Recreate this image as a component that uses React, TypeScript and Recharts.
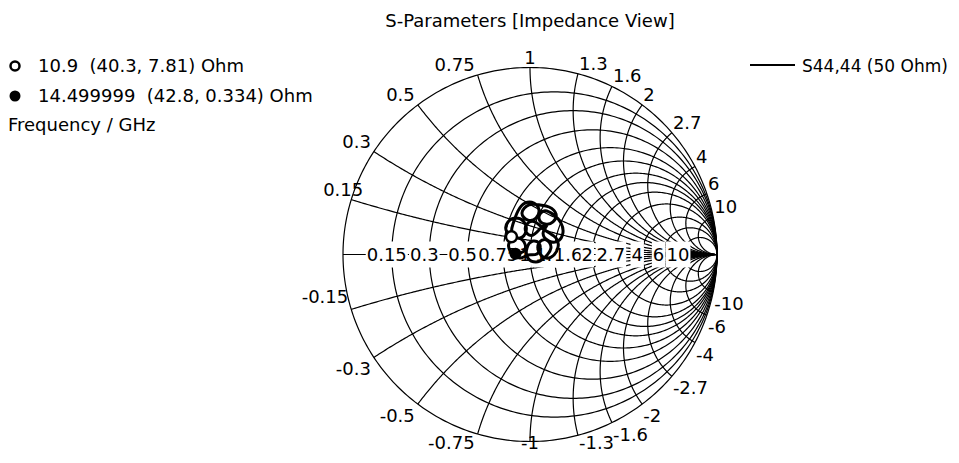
import React from 'react';
import { ComposedChart, Line, XAxis, YAxis } from 'recharts';

const FONT = '"DejaVu Sans", Verdana, Tahoma, sans-serif';
const FONT_SIZE = 18;

// Smith chart grid values, normalised to Z0
const R_VALUES = [0.15, 0.3, 0.5, 0.75, 1, 1.3, 1.6, 2, 2.7, 4, 6, 10];
const X_VALUES = [0.15, 0.3, 0.5, 0.75, 1, 1.3, 1.6, 2, 2.7, 4, 6, 10];
const R_TICK_LABELS = ['0.15', '0.3', '0.5', '0.75', '1', '1.3', '1.6', '2', '2.7', '4', '6', '10'];
const X_TICK_LABELS = ['0.15', '0.3', '0.5', '0.75', '1', '1.3', '1.6', '2', '2.7', '4', '6', '10'];

// S44 reflection coefficient samples (real / imaginary part)
const S44_RE = [
  -0.099, -0.128, -0.118, -0.075, -0.032, -0.021, -0.053, -0.096, -0.091, -0.064,
  -0.027, 0.021, 0.048, 0.032, -0.011, -0.043, -0.005, 0.053, 0.102, 0.139,
  0.123, 0.08, 0.048, 0.075, 0.128, 0.166, 0.176, 0.15, 0.102, 0.07,
  0.091, 0.059, 0.016, -0.021, -0.016, 0.027, 0.08, 0.139, 0.15, 0.128,
  0.086, 0.048, 0.048, 0.086, 0.112, 0.075, 0.032, -0.011, -0.016, 0.016,
  0.053, 0.037, -0.011, -0.053, -0.102, -0.112, -0.075, -0.032, -0.032, -0.078,
];
const S44_IM = [
  0.095, 0.131, 0.174, 0.195, 0.174, 0.126, 0.088, 0.11, 0.163, 0.233,
  0.275, 0.275, 0.238, 0.195, 0.184, 0.222, 0.265, 0.265, 0.254, 0.217,
  0.174, 0.163, 0.195, 0.233, 0.211, 0.168, 0.115, 0.072, 0.072, 0.115,
  0.158, 0.142, 0.104, 0.12, 0.163, 0.174, 0.131, 0.088, 0.04, -0.003,
  -0.019, 0.013, 0.061, 0.078, 0.035, -0.019, -0.04, -0.019, 0.035, 0.072,
  0.051, 0.003, -0.003, -0.019, 0.013, 0.061, 0.088, 0.067, 0.019, 0.004,
];

// Marker readouts: frequency (GHz) and impedance (Ohm)
const MARKER_FREQ_GHZ = ['10.9', '14.499999'];
const MARKER_R_OHM = [40.3, 42.8];
const MARKER_X_OHM = [7.81, 0.334];
const MARKER_FILLED = [false, true];
const Z0 = 50;

const W = 943;
const H = 447;
const MARGIN = { top: 59.5, right: 234, bottom: 13.5, left: 335 };

type P = { gx: number; gy: number };

// reflection coefficient for a normalised impedance r + jx
const gamma = (r: number, x: number): P => {
  const d = (r + 1) * (r + 1) + x * x;
  return { gx: (r * r + x * x - 1) / d, gy: (2 * x) / d };
};

const circlePts = (cx: number, cy: number, rad: number, n: number): P[] => {
  const pts: P[] = [];
  for (let i = 0; i <= n; i++) {
    const a = (i / n) * Math.PI * 2;
    pts.push({ gx: cx + rad * Math.cos(a), gy: cy + rad * Math.sin(a) });
  }
  return pts;
};

const reactanceArc = (x: number, n: number): P[] => {
  const pts: P[] = [];
  for (let i = 0; i < n; i++) {
    const r = Math.tan((i / n) * (Math.PI / 2));
    pts.push(gamma(r, x));
  }
  pts.push({ gx: 1, gy: 0 });
  return pts;
};

const outerCircle = circlePts(0, 0, 1, 360);
const realAxis: P[] = [{ gx: -1, gy: 0 }, { gx: 1, gy: 0 }];
const resistanceCircles = R_VALUES.map((r) => circlePts(r / (1 + r), 0, 1 / (1 + r), 300));
const reactanceArcs = X_VALUES.flatMap((x) => [reactanceArc(x, 260), reactanceArc(-x, 260)]);

const outerLabels = X_VALUES.flatMap((x, i) =>
  [1, -1].map((s) => ({ ...gamma(0, s * x), text: (s < 0 ? '-' : '') + X_TICK_LABELS[i], neg: s < 0 }))
);
const axisLabels = R_VALUES.map((r, i) => ({ ...gamma(r, 0), text: R_TICK_LABELS[i] }));

const s44 = S44_RE.map((re, i) => ({ gx: re, gy: S44_IM[i] }));
const markers = MARKER_R_OHM.map((r, i) => ({
  ...gamma(r / Z0, MARKER_X_OHM[i] / Z0),
  filled: MARKER_FILLED[i],
}));

const textStyle = { fontFamily: FONT, fontSize: FONT_SIZE, fill: '#000' } as const;

const charWidth = (c: string) => (/[0-9]/.test(c) ? 0.636 : c === '.' ? 0.318 : 0.361);

const OuterLabel = (props: any) => {
  const { cx, cy, payload, index } = props;
  const { gx, neg, text } = payload;
  let anchor: 'start' | 'middle' | 'end' = 'middle';
  let dx = 0;
  if (gx < -0.05) {
    anchor = 'end';
    dx = -3;
  } else if (gx > 0.05) {
    anchor = 'start';
    dx = 1;
  }
  // keep the lowest labels inside the drawing area
  let y = neg ? Math.min(cy + 18, H - 6) : cy - 4;
  if (gx < -0.9) {
    y = neg ? cy - 6 : cy - 4;
    if (!neg) dx = 12;
  }
  return (
    <text key={`ol-${index}`} x={cx + dx} y={y} textAnchor={anchor} style={textStyle}>
      {text}
    </text>
  );
};

const AxisLabel = (props: any) => {
  const { cx, cy, payload, index } = props;
  const text: string = payload.text;
  const w = text.split('').reduce((s, c) => s + charWidth(c), 0) * FONT_SIZE;
  const mx = cx - 5;
  return (
    <g key={`al-${index}`}>
      <rect x={mx - w / 2 - 1} y={cy - 13} width={w + 2} height={26} fill="#fff" />
      <text x={mx} y={cy + 6.5} textAnchor="middle" style={textStyle}>
        {text}
      </text>
    </g>
  );
};

const MarkerDot = (props: any) => {
  const { cx, cy, payload, index } = props;
  return payload.filled ? (
    <circle key={`mk-${index}`} cx={cx} cy={cy} r={6} fill="#000" />
  ) : (
    <circle key={`mk-${index}`} cx={cx} cy={cy} r={5.5} fill="#fff" stroke="#000" strokeWidth={2.5} />
  );
};

const gridLine = (data: P[], key: string) => (
  <Line
    key={key}
    data={data}
    dataKey="gy"
    type="linear"
    stroke="#000"
    strokeWidth={1.2}
    dot={false}
    activeDot={false}
    isAnimationActive={false}
    legendType="none"
  />
);

const axes = [
  <XAxis key="xa" dataKey="gx" type="number" domain={[-1, 1]} hide />,
  <YAxis key="ya" dataKey="gy" type="number" domain={[-1, 1]} hide />,
];

const layer: React.CSSProperties = { position: 'absolute', left: 0, top: 0 };

export default function App() {
  const legendRows = MARKER_FREQ_GHZ.map(
    (f, i) => `${f}  (${MARKER_R_OHM[i]}, ${MARKER_X_OHM[i]}) Ohm`
  );
  return (
    <div style={{ position: 'relative', width: W, height: H, background: '#fff' }}>
      {/* grid and scale labels */}
      <div style={layer}>
        <ComposedChart width={W} height={H} margin={MARGIN}>
          {axes}
          {gridLine(outerCircle, 'outer')}
          {gridLine(realAxis, 'axis')}
          {resistanceCircles.map((c, i) => gridLine(c, `r-${i}`))}
          {reactanceArcs.map((c, i) => gridLine(c, `x-${i}`))}
          <Line
            data={outerLabels}
            dataKey="gy"
            stroke="none"
            dot={OuterLabel}
            activeDot={false}
            isAnimationActive={false}
            legendType="none"
          />
          <Line
            data={axisLabels}
            dataKey="gy"
            stroke="none"
            dot={AxisLabel}
            activeDot={false}
            isAnimationActive={false}
            legendType="none"
          />
        </ComposedChart>
      </div>
      {/* S44 trace and markers on top */}
      <div style={layer}>
        <ComposedChart width={W} height={H} margin={MARGIN}>
          {axes}
          <Line
            data={s44}
            dataKey="gy"
            name="S44,44 (50 Ohm)"
            type="natural"
            stroke="#000"
            strokeWidth={3}
            dot={false}
            activeDot={false}
            isAnimationActive={false}
          />
          <Line
            data={markers}
            dataKey="gy"
            stroke="none"
            dot={MarkerDot}
            activeDot={false}
            isAnimationActive={false}
            legendType="none"
          />
        </ComposedChart>
      </div>
      <svg width={W} height={H} style={{ ...layer, pointerEvents: 'none' }}>
        <text x={522} y={19} textAnchor="middle" style={textStyle}>
          S-Parameters [Impedance View]
        </text>
        <circle cx={7} cy={58} r={4.5} fill="#fff" stroke="#000" strokeWidth={2.5} />
        <text x={30} y={64} style={{ ...textStyle, whiteSpace: 'pre' }}>
          {legendRows[0]}
        </text>
        <circle cx={7} cy={88} r={5.5} fill="#000" />
        <text x={30} y={94} style={{ ...textStyle, whiteSpace: 'pre' }}>
          {legendRows[1]}
        </text>
        <text x={0} y={123} style={textStyle}>
          Frequency / GHz
        </text>
        <line x1={742} y1={57} x2={787} y2={57} stroke="#000" strokeWidth={2} />
        <text x={794} y={64} style={{ ...textStyle, fontSize: 17 }}>
          S44,44 (50 Ohm)
        </text>
      </svg>
    </div>
  );
}
